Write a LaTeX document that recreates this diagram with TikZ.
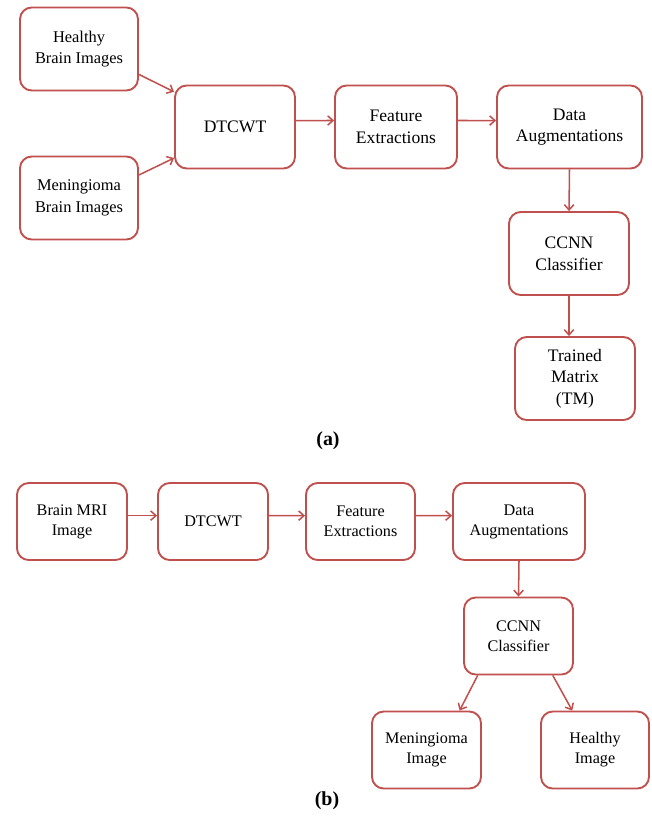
\documentclass[tikz,border=0pt]{standalone}
\usepackage{fontspec}
\setmainfont{Liberation Serif}
\usetikzlibrary{arrows.meta,positioning}
\definecolor{boxRed}{HTML}{C0504D}

\begin{document}
\begin{tikzpicture}[
  x=0.03cm,y=-0.03cm,
  stage/.style={draw=boxRed,line width=1.6pt,fill=white,rounded corners=10pt,align=center,inner sep=2pt},
  stageA/.style={stage,font=\fontsize{15}{18.5}\selectfont,minimum height=83*0.03cm},
  stageB/.style={stage,font=\fontsize{13.8}{17}\selectfont,minimum height=77*0.03cm},
  flow/.style={draw=boxRed,line width=1.3pt,-{Straight Barb[length=4.5pt,width=8pt]}},
  panel/.style={font=\fontsize{17}{18}\selectfont\bfseries}
]
  \useasboundingbox (0,0) rectangle (652,818);

  % (a) training
  \node[stageA,minimum width=118*0.03cm,font=\fontsize{14}{18.5}\selectfont] (healthyA) at (79,49) {Healthy\\Brain Images};
  \node[stageA,minimum width=118*0.03cm,font=\fontsize{14}{18.5}\selectfont] (menA) at (79,198) {Meningioma\\Brain Images};
  \node[stageA,minimum width=120*0.03cm] (dtcwtA) at (235,127) {DTCWT};
  \node[stageA,minimum width=122*0.03cm] (featA) at (396,127) {Feature\\Extractions};
  \node[stageA,minimum width=145*0.03cm] (augA) at (569.5,127) {Data\\Augmentations};
  \node[stageA,minimum width=120*0.03cm] (ccnnA) at (569,253.5) {CCNN\\Classifier};
  \node[stageA,minimum width=120*0.03cm] (tmA) at (575,378.5) {Trained\\Matrix\\(TM)};
  \node[panel] (labA) at (328,441) {(a)};

  \draw[flow] (healthyA.-23) -- (dtcwtA.150);
  \draw[flow] (menA.21) -- (dtcwtA.-153);
  \draw[flow] (dtcwtA.6) -- (featA.174);
  \draw[flow] (featA.6) -- (augA.175);
  \draw[flow] (augA.south) -- (ccnnA.north);
  \draw[flow] (ccnnA.south) -- (ccnnA.south |- tmA.north);

  % (b) testing
  \node[stageB,minimum width=110*0.03cm] (mriB) at (72,521.5) {Brain MRI\\Image};
  \node[stageB,minimum width=110*0.03cm] (dtcwtB) at (213,521.5) {DTCWT};
  \node[stageB,minimum width=109*0.03cm] (featB) at (360.5,521.5) {Feature\\Extractions};
  \node[stageB,minimum width=132*0.03cm] (augB) at (519,521.5) {Data\\Augmentations};
  \node[stageB,minimum width=109*0.03cm] (ccnnB) at (518.5,636) {CCNN\\Classifier};
  \node[stageB,minimum width=109*0.03cm] (menB) at (426.5,750) {Meningioma\\Image};
  \node[stageB,minimum width=108*0.03cm] (healB) at (595,750) {Healthy\\Image};
  \node[panel] (labB) at (327,801) {(b)};

  \foreach \a/\b/\e in {mriB/dtcwtB/174,dtcwtB/featB/174,featB/augB/175}
    \draw[flow] (\a.6) -- (\b.\e);
  \draw[flow] (augB.south) -- (ccnnB.north);
  \draw[flow] (ccnnB.-136) -- (menB.50);
  \draw[flow] (ccnnB.-49) -- (healB.120);
\end{tikzpicture}
\end{document}
